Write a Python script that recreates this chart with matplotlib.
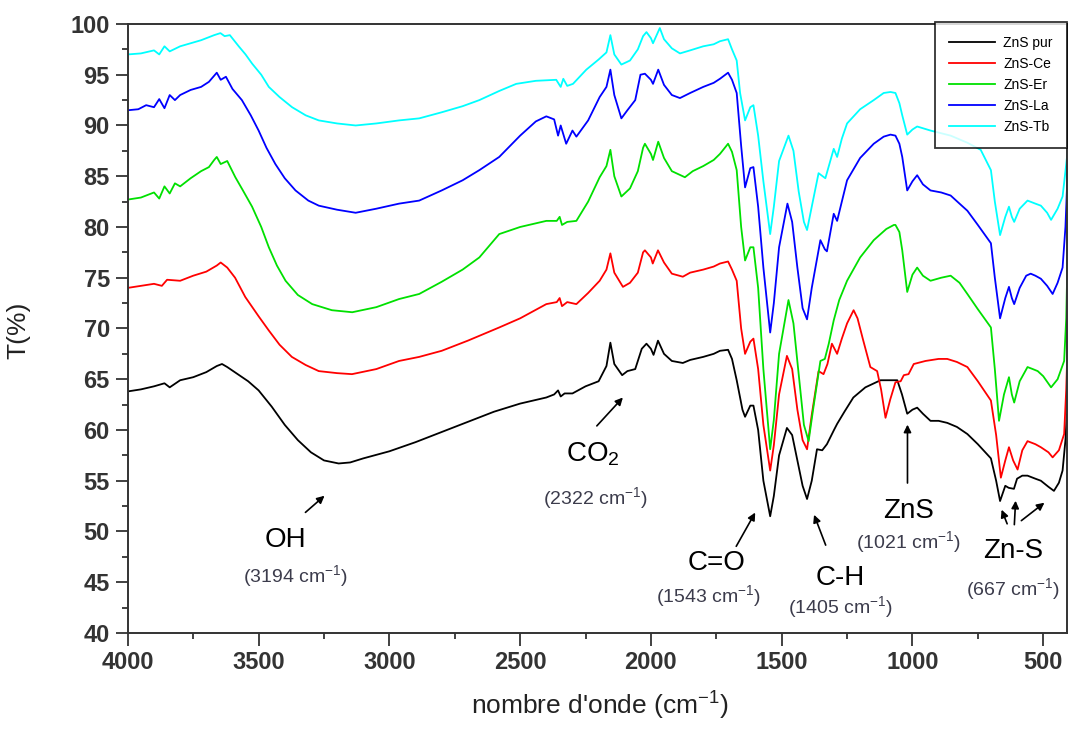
import matplotlib
matplotlib.use("Agg")
import matplotlib.pyplot as plt
from matplotlib.ticker import MultipleLocator

plt.rcParams["font.family"] = ["Liberation Sans", "DejaVu Sans"]
plt.rcParams["mathtext.default"] = "regular"

# --- data (wavenumber in cm-1, transmittance in %) ---
wn_pur = [4000, 3950, 3900, 3860, 3840, 3800, 3750, 3700, 3660, 3640, 3620, 3580, 3540, 3500,
          3450, 3400, 3350, 3300, 3250, 3194, 3150, 3100, 3000, 2900, 2800, 2700, 2600, 2500,
          2400, 2370, 2355, 2345, 2330, 2300, 2250, 2200, 2170, 2155, 2140, 2110, 2090, 2060,
          2035, 2017, 2000, 1990, 1973, 1950, 1920, 1878, 1850, 1800, 1760, 1736, 1705, 1690,
          1672, 1650, 1640, 1620, 1608, 1590, 1570, 1544, 1530, 1510, 1480, 1460, 1440, 1420,
          1403, 1385, 1365, 1345, 1327, 1300, 1288, 1260, 1226, 1180, 1122, 1058, 1040, 1020,
          1000, 982, 960, 931, 900, 867, 830, 790, 750, 700, 680, 665, 645, 632, 612, 600, 580,
          560, 530, 509, 480, 459, 440, 426, 415, 410]
t_pur = [63.8, 64.0, 64.3, 64.6, 64.2, 64.9, 65.2, 65.7, 66.3, 66.5, 66.2, 65.5, 64.8, 63.9,
         62.3, 60.5, 59.0, 57.8, 57.0, 56.7, 56.8, 57.2, 57.9, 58.8, 59.8, 60.8, 61.8, 62.6,
         63.2, 63.5, 63.9, 63.3, 63.6, 63.6, 64.3, 64.8, 66.3, 68.6, 66.5, 65.4, 65.8, 66.0,
         68.0, 68.5, 68.0, 67.4, 68.8, 67.5, 66.8, 66.6, 66.9, 67.2, 67.5, 67.8, 67.9, 67.0,
         64.9, 62.0, 61.3, 62.4, 62.4, 60.0, 55.0, 51.5, 53.5, 57.5, 60.2, 59.5, 57.0, 54.5,
         53.2, 55.0, 58.1, 58.0, 58.6, 60.0, 60.6, 61.8, 63.2, 64.2, 64.9, 64.9, 63.5, 61.6,
         62.0, 62.2, 61.6, 60.9, 60.9, 60.7, 60.3, 59.6, 58.6, 57.2, 55.0, 53.0, 54.5, 54.3,
         54.2, 55.2, 55.5, 55.5, 55.2, 55.0, 54.4, 54.0, 54.8, 56.0, 59.0, 61.5]

wn_ce = [4000, 3950, 3900, 3870, 3850, 3800, 3750, 3700, 3660, 3645, 3620, 3590, 3551, 3500,
         3461, 3420, 3373, 3320, 3270, 3200, 3143, 3050, 2963, 2886, 2800, 2700, 2580, 2500,
         2400, 2360, 2349, 2340, 2320, 2285, 2240, 2196, 2170, 2155, 2140, 2107, 2080, 2050,
         2030, 2023, 2000, 1993, 1973, 1950, 1920, 1878, 1850, 1800, 1760, 1736, 1705, 1690,
         1672, 1655, 1640, 1620, 1608, 1590, 1570, 1544, 1530, 1510, 1480, 1460, 1440, 1420,
         1403, 1385, 1359, 1340, 1325, 1308, 1288, 1270, 1250, 1225, 1210, 1190, 1161, 1135,
         1120, 1103, 1085, 1065, 1045, 1033, 1015, 995, 950, 900, 867, 830, 790, 750, 700, 680,
         662, 645, 631, 615, 598, 580, 560, 530, 509, 480, 464, 440, 420, 412, 406]
t_ce = [74.0, 74.2, 74.4, 74.2, 74.8, 74.7, 75.2, 75.6, 76.2, 76.5, 76.0, 75.0, 73.1, 71.2,
        69.8, 68.4, 67.2, 66.4, 65.8, 65.6, 65.5, 66.0, 66.8, 67.2, 67.8, 68.8, 70.1, 71.0,
        72.4, 72.6, 73.0, 72.2, 72.6, 72.4, 73.5, 74.7, 75.8, 77.4, 75.5, 74.1, 74.5, 75.5,
        77.5, 77.7, 77.0, 76.4, 77.7, 76.5, 75.4, 75.1, 75.5, 75.8, 76.1, 76.4, 76.6, 75.8,
        74.7, 70.0, 67.5, 68.7, 69.0, 66.0, 60.5, 56.0, 58.5, 63.5, 67.3, 66.0, 62.0, 59.0,
        58.1, 61.5, 65.8, 65.5, 66.5, 68.5, 67.5, 69.0, 70.5, 71.8, 71.0, 69.0, 66.2, 65.8,
        64.0, 61.2, 63.0, 64.7, 64.8, 65.4, 65.5, 66.5, 66.8, 67.0, 67.0, 66.7, 66.2, 64.8,
        62.9, 59.5, 55.3, 57.0, 58.3, 57.0, 56.1, 58.0, 58.9, 58.6, 58.3, 57.8, 57.3, 58.0,
        59.6, 64.0, 69.1]

wn_er = [4000, 3950, 3900, 3880, 3860, 3840, 3820, 3800, 3760, 3720, 3690, 3670, 3660, 3645,
         3620, 3589, 3560, 3525, 3490, 3461, 3430, 3397, 3350, 3295, 3220, 3142, 3050, 2963,
         2886, 2800, 2720, 2656, 2580, 2500, 2400, 2360, 2349, 2340, 2320, 2285, 2240, 2196,
         2170, 2155, 2140, 2113, 2080, 2050, 2030, 2023, 2000, 1992, 1972, 1950, 1920, 1870,
         1840, 1800, 1760, 1736, 1705, 1690, 1672, 1655, 1640, 1620, 1608, 1590, 1570, 1544,
         1530, 1510, 1474, 1455, 1435, 1415, 1397, 1380, 1352, 1335, 1320, 1301, 1280, 1250,
         1200, 1148, 1100, 1071, 1065, 1050, 1039, 1020, 1000, 982, 960, 931, 890, 854, 820,
         790, 750, 700, 685, 669, 650, 631, 620, 611, 590, 560, 540, 521, 500, 470, 445, 420,
         412, 406]
t_er = [82.7, 82.9, 83.4, 82.8, 84.0, 83.3, 84.3, 84.0, 84.8, 85.5, 85.9, 86.6, 86.9, 86.2,
        86.5, 84.9, 83.6, 82.0, 80.0, 78.0, 76.2, 74.7, 73.3, 72.4, 71.8, 71.6, 72.1, 72.9,
        73.4, 74.6, 75.8, 77.0, 79.3, 80.0, 80.6, 80.6, 81.0, 80.2, 80.5, 80.6, 82.5, 84.9,
        86.0, 87.6, 85.0, 83.0, 83.8, 85.5, 87.8, 88.2, 87.2, 86.6, 88.4, 86.8, 85.5, 84.9,
        85.5, 86.0, 86.6, 87.2, 88.2, 87.4, 85.6, 80.0, 76.7, 78.0, 78.0, 74.0, 66.0, 58.1,
        61.0, 67.5, 72.8, 70.5, 65.5, 60.5, 58.9, 62.0, 66.8, 67.0, 68.5, 70.8, 72.8, 74.7,
        77.0, 78.7, 79.8, 80.2, 80.2, 79.5, 77.7, 73.6, 75.3, 76.0, 75.2, 74.7, 75.0, 75.2,
        74.5, 73.4, 71.9, 70.1, 66.0, 60.9, 63.5, 65.2, 63.5, 62.7, 64.8, 66.2, 66.0, 65.8,
        65.3, 64.2, 65.0, 66.8, 71.0, 78.3]

wn_la = [4000, 3960, 3930, 3900, 3880, 3860, 3840, 3820, 3800, 3760, 3720, 3690, 3670, 3660,
         3645, 3625, 3600, 3564, 3530, 3500, 3470, 3436, 3400, 3359, 3310, 3270, 3200, 3129,
         3050, 2963, 2886, 2800, 2720, 2656, 2580, 2500, 2440, 2400, 2370, 2355, 2345, 2324,
         2300, 2285, 2240, 2196, 2170, 2155, 2140, 2113, 2090, 2060, 2040, 2023, 2000, 1992,
         1972, 1950, 1920, 1889, 1850, 1800, 1760, 1736, 1705, 1690, 1672, 1655, 1640, 1620,
         1608, 1590, 1570, 1544, 1530, 1510, 1478, 1460, 1440, 1420, 1403, 1385, 1352, 1335,
         1327, 1301, 1288, 1270, 1250, 1200, 1148, 1110, 1084, 1065, 1050, 1039, 1020, 1000,
         982, 960, 931, 890, 854, 820, 790, 750, 700, 685, 665, 645, 631, 620, 611, 590, 565,
         548, 530, 509, 485, 464, 445, 426, 415, 406]
t_la = [91.5, 91.6, 92.0, 91.8, 92.6, 91.7, 93.0, 92.5, 93.0, 93.5, 93.8, 94.3, 94.9, 95.2,
        94.5, 94.8, 93.6, 92.5, 91.0, 89.5, 87.8, 86.2, 84.8, 83.6, 82.6, 82.1, 81.7, 81.4,
        81.8, 82.3, 82.6, 83.6, 84.6, 85.6, 86.9, 89.0, 90.4, 90.9, 90.6, 89.0, 90.0, 88.2,
        89.5, 88.9, 90.5, 92.8, 93.8, 95.5, 93.0, 90.7, 91.5, 92.5, 95.0, 95.1, 94.5, 94.1,
        95.5, 94.0, 93.0, 92.7, 93.2, 93.8, 94.2, 94.6, 95.2, 94.5, 93.2, 88.0, 83.9, 85.8,
        85.9, 82.0, 76.0, 69.6, 72.5, 78.0, 82.3, 80.5, 76.0, 72.0, 70.9, 74.0, 78.7, 77.8,
        77.6, 81.3, 80.6, 82.5, 84.6, 86.8, 88.2, 88.9, 89.1, 89.0, 88.2, 86.9, 83.6, 84.5,
        85.1, 84.2, 83.6, 83.4, 83.1, 82.3, 81.6, 80.2, 78.4, 75.0, 71.0, 73.0, 74.1, 73.0,
        72.4, 74.0, 75.2, 75.4, 75.2, 74.9, 74.2, 73.4, 74.5, 76.0, 80.0, 85.9]

wn_tb = [4000, 3950, 3900, 3880, 3860, 3840, 3800, 3760, 3720, 3690, 3670, 3646, 3630, 3610,
         3576, 3550, 3525, 3490, 3461, 3420, 3372, 3320, 3270, 3200, 3129, 3050, 2963, 2886,
         2800, 2720, 2656, 2580, 2515, 2440, 2362, 2345, 2335, 2320, 2298, 2247, 2200, 2170,
         2155, 2140, 2113, 2080, 2050, 2030, 2017, 2000, 1992, 1966, 1950, 1920, 1889, 1850,
         1800, 1760, 1736, 1705, 1690, 1672, 1659, 1640, 1620, 1608, 1590, 1570, 1544, 1530,
         1510, 1474, 1455, 1435, 1415, 1403, 1385, 1359, 1333, 1301, 1288, 1270, 1250, 1200,
         1148, 1110, 1084, 1065, 1050, 1039, 1020, 1000, 982, 931, 854, 790, 739, 700, 685,
         665, 645, 631, 620, 611, 590, 560, 530, 509, 485, 470, 445, 426, 415, 406]
t_tb = [97.0, 97.1, 97.4, 97.0, 97.8, 97.3, 97.8, 98.1, 98.4, 98.7, 98.9, 99.1, 98.8, 98.9,
        97.8, 97.0, 96.1, 95.0, 93.8, 92.8, 91.8, 91.0, 90.5, 90.2, 90.0, 90.2, 90.5, 90.7,
        91.3, 91.9, 92.5, 93.4, 94.1, 94.4, 94.5, 93.8, 94.6, 93.9, 94.1, 95.5, 96.5, 97.2,
        98.9, 97.0, 96.0, 96.4, 97.5, 98.8, 99.2, 98.6, 98.1, 99.6, 98.5, 97.6, 97.1, 97.4,
        97.8, 98.0, 98.3, 98.5, 97.5, 96.4, 93.2, 90.5, 91.8, 92.0, 89.0, 84.5, 79.3, 82.0,
        86.5, 89.0, 87.5, 83.5, 80.5, 79.7, 82.0, 85.3, 84.8, 87.7, 86.9, 88.7, 90.2, 91.6,
        92.5, 93.2, 93.3, 93.2, 92.2, 91.0, 89.1, 89.6, 89.9, 89.5, 89.0, 88.3, 87.6, 85.6,
        82.5, 79.2, 81.0, 82.0, 81.0, 80.5, 81.8, 82.6, 82.3, 82.1, 81.4, 80.7, 81.8, 83.0,
        85.5, 87.6]

labels = ["ZnS pur", "ZnS-Ce", "ZnS-Er", "ZnS-La", "ZnS-Tb"]
colors = ["black", "#ff0000", "#00e000", "#0000ff", "#00ffff"]

fig = plt.figure(figsize=(10.69, 7.31), dpi=100)
ax = fig.add_axes([0.1196, 0.1341, 0.8783, 0.8331])

series = [(wn_pur, t_pur), (wn_ce, t_ce), (wn_er, t_er), (wn_la, t_la), (wn_tb, t_tb)]
for (x, y), lab, c in zip(series, labels, colors):
    ax.plot(x, y, color=c, lw=1.3, label=lab)

ax.set_xlim(4000, 410)
ax.set_ylim(40, 100)
ax.xaxis.set_major_locator(MultipleLocator(500))
ax.xaxis.set_minor_locator(MultipleLocator(250))
ax.yaxis.set_major_locator(MultipleLocator(5))
ax.yaxis.set_minor_locator(MultipleLocator(2.5))
ax.tick_params(which="both", direction="out", colors="#333333", width=1.3,
               top=False, right=False)
ax.tick_params(which="major", length=9, labelsize=17, pad=4)
ax.tick_params(which="minor", length=4.5)
for lbl in ax.get_xticklabels() + ax.get_yticklabels():
    lbl.set_fontweight("bold")
for s in ax.spines.values():
    s.set_color("#333333")
    s.set_linewidth(1.4)

ax.set_xlabel("nombre d'onde (cm$^{-1}$)", fontsize=19, color="#222222")
ax.xaxis.set_label_coords(0.503, -0.094)
ax.set_ylabel("T(%)", fontsize=19, color="#222222")
ax.yaxis.set_label_coords(-0.104, 0.4975)

leg = ax.legend(loc="upper right", bbox_to_anchor=(1.0, 1.003), borderaxespad=0,
                fontsize=10, frameon=True, fancybox=False, edgecolor="black",
                handlelength=3.3, handletextpad=0.6, labelspacing=0.5, borderpad=1.0)
leg.get_frame().set_linewidth(1.3)
leg.set_zorder(5)

# annotations
arrow = dict(arrowstyle="-|>", color="black", lw=1.2, mutation_scale=11)
big = dict(fontsize=20, ha="center", va="center", color="black")
small = dict(fontsize=14, ha="center", va="center", color="#3c3c4c")

ax.text(3399, 49.2, "OH", **big)
ax.text(3360, 45.6, "(3194 cm$^{-1}$)", **small)
ax.annotate("", xy=(3240, 53.7), xytext=(3329, 51.7), arrowprops=arrow)

ax.text(2221, 57.6, "CO$_2$", **big)
ax.text(2214, 53.3, "(2322 cm$^{-1}$)", **small)
ax.annotate("", xy=(2100, 63.4), xytext=(2214, 60.2), arrowprops=arrow)

ax.text(1749, 46.9, "C=O", **big)
ax.text(1781, 43.6, "(1543 cm$^{-1}$)", **small)
ax.annotate("", xy=(1596, 52.1), xytext=(1679, 48.3), arrowprops=arrow)

ax.text(1277, 45.4, "C-H", **big)
ax.text(1277, 42.6, "(1405 cm$^{-1}$)", **small)
ax.annotate("", xy=(1380, 51.9), xytext=(1328, 48.4), arrowprops=arrow)

ax.text(1016, 52.0, "ZnS", **big)
ax.text(1016, 49.0, "(1021 cm$^{-1}$)", **small)
ax.annotate("", xy=(1019, 60.8), xytext=(1019, 54.5), arrowprops=arrow)

ax.text(615, 48.1, "Zn-S", **big)
ax.text(615, 44.3, "(667 cm$^{-1}$)", **small)
ax.annotate("", xy=(663, 52.4), xytext=(634, 50.5), arrowprops=arrow)
ax.annotate("", xy=(605, 53.3), xytext=(611, 50.4), arrowprops=arrow)
ax.annotate("", xy=(487, 53.0), xytext=(592, 50.9), arrowprops=arrow)

fig.savefig("out.png", dpi=100)
